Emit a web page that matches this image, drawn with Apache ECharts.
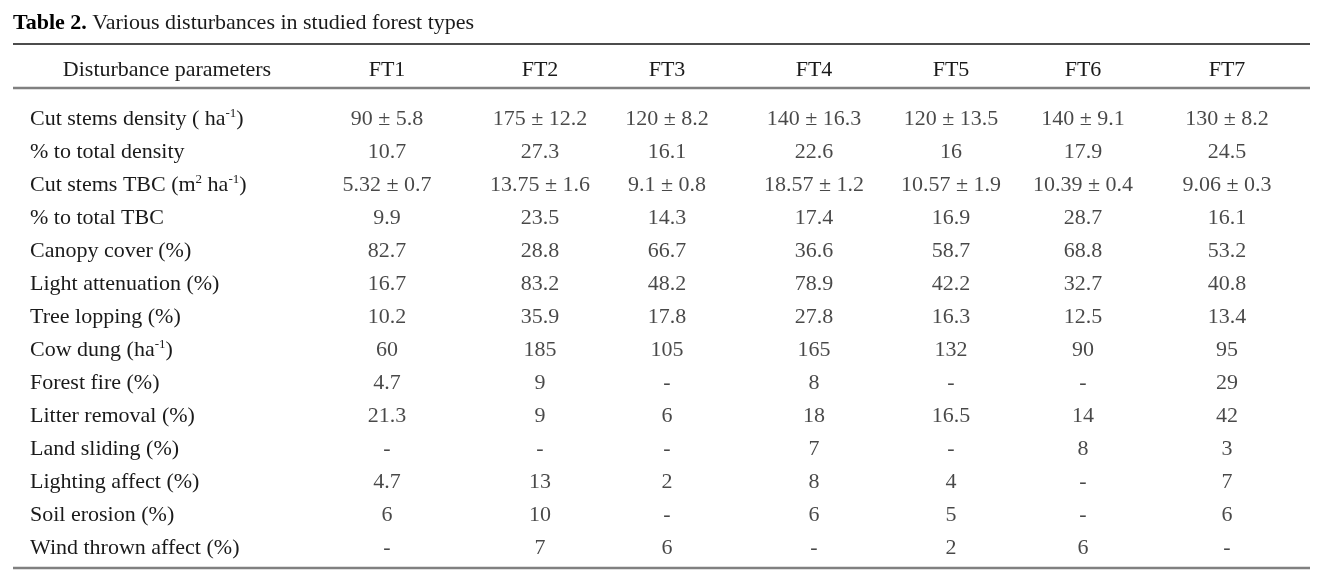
<!DOCTYPE html>
<html>
<head>
<meta charset="utf-8">
<script src="https://cdn.jsdelivr.net/npm/echarts@6/dist/echarts.min.js"></script>
<style>
html,body{margin:0;padding:0;background:#fff;}
#chart{width:1322px;height:571px;}
</style>
</head>
<body>
<div id="chart"></div>
<script>
// ---------- data ----------
const titleBold = 'Table 2.';
const titleRest = ' Various disturbances in studied forest types';
const headerFirst = 'Disturbance parameters';
const forestTypes = ['FT1', 'FT2', 'FT3', 'FT4', 'FT5', 'FT6', 'FT7'];
const parameters = [
  'Cut stems density ( ha⁻¹)',
  '% to total density',
  'Cut stems TBC (m² ha⁻¹)',
  '% to total TBC',
  'Canopy cover (%)',
  'Light attenuation (%)',
  'Tree lopping (%)',
  'Cow dung (ha⁻¹)',
  'Forest fire (%)',
  'Litter removal (%)',
  'Land sliding (%)',
  'Lighting affect (%)',
  'Soil erosion (%)',
  'Wind thrown affect (%)'
];
const FT1 = ['90 ± 5.8', '10.7', '5.32 ± 0.7', '9.9', '82.7', '16.7', '10.2', '60', '4.7', '21.3', '-', '4.7', '6', '-'];
const FT2 = ['175 ± 12.2', '27.3', '13.75 ± 1.6', '23.5', '28.8', '83.2', '35.9', '185', '9', '9', '-', '13', '10', '7'];
const FT3 = ['120 ± 8.2', '16.1', '9.1 ± 0.8', '14.3', '66.7', '48.2', '17.8', '105', '-', '6', '-', '2', '-', '6'];
const FT4 = ['140 ± 16.3', '22.6', '18.57 ± 1.2', '17.4', '36.6', '78.9', '27.8', '165', '8', '18', '7', '8', '6', '-'];
const FT5 = ['120 ± 13.5', '16', '10.57 ± 1.9', '16.9', '58.7', '42.2', '16.3', '132', '-', '16.5', '-', '4', '5', '2'];
const FT6 = ['140 ± 9.1', '17.9', '10.39 ± 0.4', '28.7', '68.8', '32.7', '12.5', '90', '-', '14', '8', '-', '-', '6'];
const FT7 = ['130 ± 8.2', '24.5', '9.06 ± 0.3', '16.1', '53.2', '40.8', '13.4', '95', '29', '42', '3', '7', '6', '-'];
const columns = [FT1, FT2, FT3, FT4, FT5, FT6, FT7];

// ---------- layout ----------
const COL_X = [387, 540, 667, 814, 951, 1083, 1227];
const FONT = '"Liberation Serif", "DejaVu Serif", serif';
const FS = 22;
const TEXT = '#1a1a1a';

function supFmt(s) {
  return s.replace(/⁻¹/g, '{sup|-1}').replace(/²/g, '{sup|2}');
}
const richSup = {
  sup: { fontSize: 13, fontFamily: FONT, color: TEXT, padding: [0, 0, 10, 0] }
};

const chart = echarts.init(document.getElementById('chart'), null, { renderer: 'canvas' });

const series = columns.map((col, j) => ({
  type: 'scatter',
  name: forestTypes[j],
  symbolSize: 0,
  silent: true,
  data: col.map((v, i) => [COL_X[j], i, v]),
  label: {
    show: true,
    position: 'inside',
    formatter: p => p.value[2],
    fontFamily: FONT,
    fontSize: FS,
    color: TEXT
  }
}));

chart.setOption({
  animation: false,
  backgroundColor: '#ffffff',
  grid: { left: 0, right: 0, top: 102.5, height: 462 },
  xAxis: { type: 'value', min: 0, max: 1322, show: false },
  yAxis: {
    type: 'category',
    inverse: true,
    data: parameters,
    axisLine: { show: false },
    axisTick: { show: false },
    splitLine: { show: false },
    axisLabel: {
      inside: true,
      margin: 30,
      align: 'left',
      fontFamily: FONT,
      fontSize: FS,
      color: TEXT,
      formatter: v => supFmt(v),
      rich: richSup
    }
  },
  series: series
});

// header, title and rules
const headerY = 70;
const graphics = [
  {
    type: 'text', x: 13, y: 23,
    style: {
      text: '{b|' + titleBold + '}' + titleRest,
      font: FS + 'px ' + FONT,
      fill: TEXT,
      textVerticalAlign: 'middle',
      rich: { b: { fontWeight: 'bold', fontSize: FS, fontFamily: FONT, fill: '#000' } }
    }
  },
  { type: 'line', shape: { x1: 13, y1: 44, x2: 1310, y2: 44 }, style: { stroke: '#111', lineWidth: 1.3 } },
  { type: 'line', shape: { x1: 13, y1: 88, x2: 1310, y2: 88 }, style: { stroke: '#808080', lineWidth: 2.5 } },
  { type: 'line', shape: { x1: 13, y1: 568, x2: 1310, y2: 568 }, style: { stroke: '#808080', lineWidth: 2.5 } },
  {
    type: 'text', x: 167, y: headerY,
    style: { text: headerFirst, font: FS + 'px ' + FONT, fill: TEXT, textAlign: 'center', textVerticalAlign: 'middle' }
  }
];
forestTypes.forEach((ft, j) => {
  const px = chart.convertToPixel({ xAxisIndex: 0 }, COL_X[j]);
  graphics.push({
    type: 'text', x: px, y: headerY,
    style: { text: ft, font: FS + 'px ' + FONT, fill: TEXT, textAlign: 'center', textVerticalAlign: 'middle' }
  });
});
chart.setOption({ graphic: graphics });
</script>
</body>
</html>
